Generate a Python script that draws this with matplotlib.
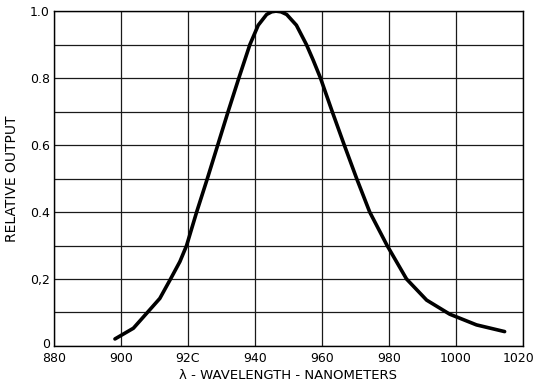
import matplotlib
matplotlib.use('Agg')
import matplotlib.pyplot as plt
import matplotlib.transforms as mtransforms

# Values (nm, relative output)
wavelength = [898.2, 903.7, 907.7, 911.6, 914.8, 917.6, 919.6, 922.6, 925.8, 928.9,
              932.0, 935.2, 938.5, 941.0, 943.5, 945.0, 946.3, 947.8, 949.5, 952.4,
              955.4, 957.4, 959.6, 963.1, 966.7, 970.4, 974.3, 979.5, 985.3, 991.3,
              998.2, 1006.2, 1014.6]
rel_output = [0.021, 0.053, 0.098, 0.142, 0.2, 0.252, 0.3, 0.4, 0.5, 0.6,
              0.7, 0.8, 0.9, 0.958, 0.99, 0.998, 1.0, 0.998, 0.99, 0.958,
              0.9, 0.854, 0.8, 0.7, 0.6, 0.5, 0.4, 0.3, 0.2, 0.137,
              0.095, 0.063, 0.043]

x_ticks = [880, 900, 920, 940, 960, 980, 1000, 1020]
x_ticklabels = ['880', '900', '92C', '940', '960', '980', '1000', '1020']
y_ticks = [0, 0.2, 0.4, 0.6, 0.8, 1.0]
y_ticklabels = ['0', '0,2', '0.4', '0.6', '0.8', '1.0']

fig = plt.figure(figsize=(5.35, 3.84), dpi=100)
ax = fig.add_axes([0.101, 0.099, 0.876, 0.872])

# grid: every 20 nm and every 0.1
for xv in range(880, 1021, 20):
    ax.axvline(xv, color='0.1', lw=0.9, zorder=1)
for i in range(11):
    ax.axhline(i / 10, color='0.1', lw=0.9, zorder=1)

ax.plot(wavelength, rel_output, color='black', lw=2.6,
        solid_capstyle='round', solid_joinstyle='round', zorder=3)

ax.set_xlim(880, 1020)
ax.set_ylim(0, 1.0)
ax.set_xticks(x_ticks)
ax.set_xticklabels(x_ticklabels)
ax.set_yticks(y_ticks)
ax.set_yticklabels(y_ticklabels)
ax.tick_params(axis='x', length=0, labelsize=9, pad=4)
ax.tick_params(axis='y', length=0, labelsize=9, pad=3)

# nudge the corner labels so they don't collide / get clipped
last = ax.get_xticklabels()[-1]
last.set_transform(last.get_transform() +
                   mtransforms.ScaledTranslation(-4 / 100, 0, fig.dpi_scale_trans))
zero = ax.get_yticklabels()[0]
zero.set_transform(zero.get_transform() +
                   mtransforms.ScaledTranslation(0, 3 / 100, fig.dpi_scale_trans))

for s in ax.spines.values():
    s.set_color('black')
    s.set_linewidth(1.0)

ax.set_xlabel('\u03bb - WAVELENGTH - NANOMETERS', fontsize=9.5, labelpad=3)
ax.set_ylabel('RELATIVE OUTPUT', fontsize=10, labelpad=8)

fig.savefig('out.png', dpi=100)
